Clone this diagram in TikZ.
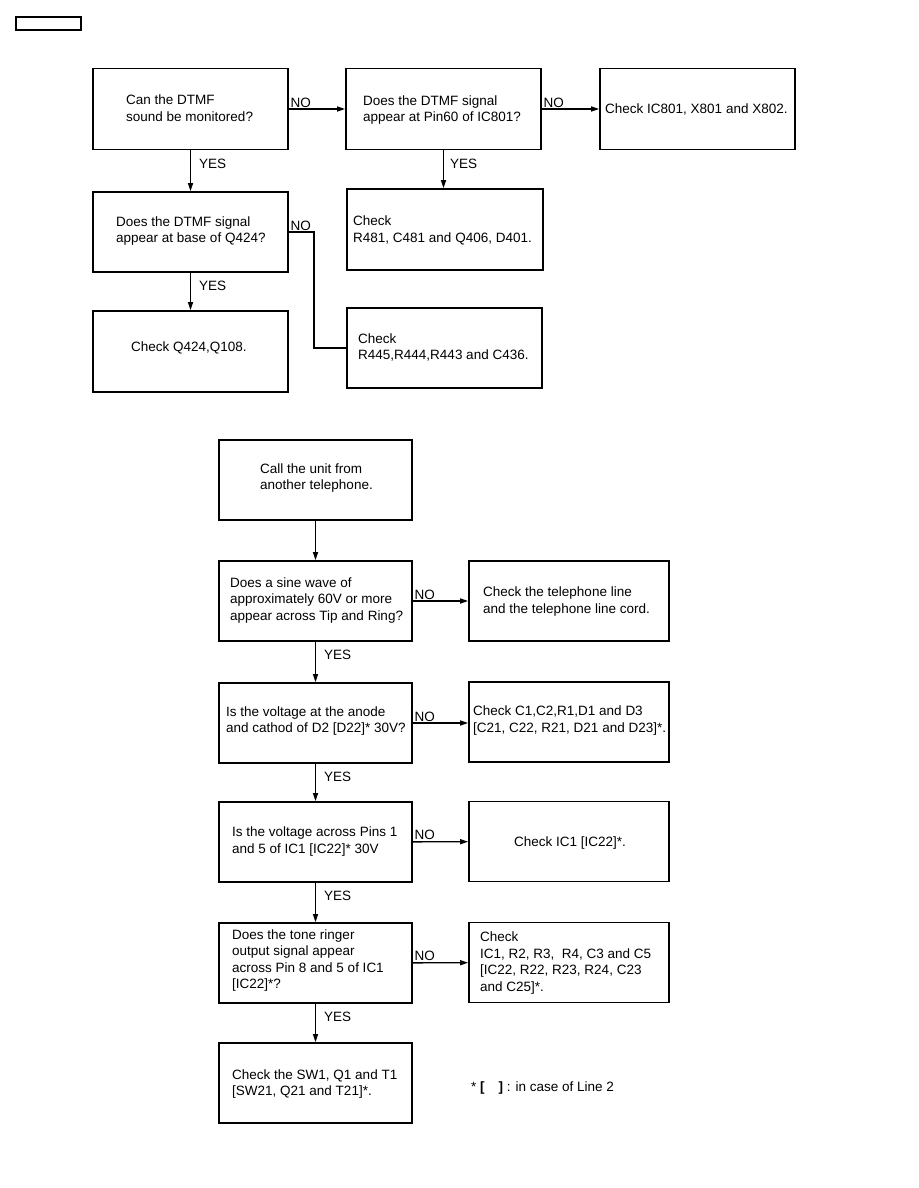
\documentclass[tikz,border=0pt]{standalone}
\usepackage{fontspec}
\setmainfont{Liberation Sans}
\usetikzlibrary{arrows.meta,positioning,calc}

\begin{document}
\begin{tikzpicture}[
    x=1pt,y=1pt,
    >={Triangle[length=8pt,width=5pt]},
    line/.style={draw=black, line width=1.4pt},
    box/.style={
        draw=black,
        line width=1.7pt,
        inner sep=0pt,
        minimum width=195,
        minimum height=81
    },
    qbox/.style={box, minimum width=193, minimum height=80},
    cbox/.style={box, minimum width=200, minimum height=80},
    txt/.style={font=\fontsize{13.5}{16.5}\selectfont, align=left, anchor=west, inner sep=0pt},
    lbl/.style={font=\fontsize{13.5}{16.5}\selectfont, inner sep=1pt},
    nolbl/.style={lbl, pos=0, anchor=south west},
    yeslbl/.style={lbl, pos=0, anchor=north west, xshift=7, yshift=-7}
]

% ===== page frame =====
\useasboundingbox (0,0) rectangle (918,-1188);

% header tab
\node[draw=black, line width=1.5pt, minimum width=65, minimum height=13, inner sep=0pt]
  (hdr) at (48.5,-23.5) {};

% ===== DTMF chart =====
\node[box] (monitor) at (190.5,-109) {};
\node[txt] (monitor-t) at (126,-108) {Can the DTMF\\sound be monitored?};

\node[box] (pin60) at (443.5,-109) {};
\node[txt] (pin60-t) at (363,-110) {Does the DTMF signal\\appear at Pin60 of IC801?};

\node[box] (ic801) at (697.5,-109) {};
\node[txt] (ic801-t) at (605,-109) {Check IC801, X801 and X802.};

\node[box, minimum height=80] (base) at (190.5,-232) {};
\node[txt] (base-t) at (116,-231) {Does the DTMF signal\\appear at base of Q424?};

\node[box, minimum width=196] (r481) at (445,-229.5) {};
\node[txt] (r481-t) at (353,-230.5) {Check\\R481, C481 and Q406, D401.};

\node[box] (q424) at (190.5,-351.5) {};
\node[txt] (q424-t) at (131,-348) {Check Q424,Q108.};

\node[box, minimum height=80] (r445) at (444.5,-348) {};
\node[txt] (r445-t) at (358,-347.5) {Check\\R445,R444,R443 and C436.};

% connectors
\draw[line,->] (monitor) -- node[nolbl] {NO} (pin60);
\draw[line,->] (pin60) -- node[nolbl] {NO} (ic801);
\draw[line,->] (monitor) -- node[yeslbl] {YES} (base);
\draw[line,->] (pin60.south) -- node[yeslbl, xshift=-2] {YES} (pin60.south |- r481.north);
\draw[line,->] (base) -- node[yeslbl] {YES} (q424);
\draw[line] (base.east) -- node[nolbl] {NO} ++(25,0) |- (r445.west);

% ===== ringer chart =====
\node[qbox] (call) at (315.5,-480) {};
\node[txt] (call-t) at (260,-478) {Call the unit from\\another telephone.};

\node[qbox] (sine) at (315.5,-601) {};
\node[txt] (sine-t) at (230,-600.5) {Does a sine wave of\\approximately 60V or more\\appear across Tip and Ring?};

\node[cbox] (line) at (569,-601) {};
\node[txt] (line-t) at (483,-601.5) {Check the telephone line\\and the telephone line cord.};

\node[qbox] (anode) at (315.5,-723) {};
\node[txt] (anode-t) at (226,-721) {Is the voltage at the anode\\and cathod of D2 [D22]* 30V?};

\node[cbox] (c1) at (569,-722) {};
\node[txt] (c1-t) at (473,-720.5) {Check C1,C2,R1,D1 and D3\\{}[C21, C22, R21, D21 and D23]*.};

\node[qbox] (pins) at (315.5,-842) {};
\node[txt] (pins-t) at (232,-841.5) {Is the voltage across Pins 1\\and 5 of IC1 [IC22]* 30V};

\node[cbox] (ic1) at (569,-841.5) {};
\node[txt] (ic1-t) at (514,-843) {Check IC1 [IC22]*.};

\node[qbox] (ringer) at (315.5,-963) {};
\node[txt] (ringer-t) at (232,-960.5) {Does the tone ringer\\output signal appear\\across Pin 8 and 5 of IC1\\{}[IC22]*?};

\node[cbox] (r2) at (569,-962.5) {};
\node[txt] (r2-t) at (480,-963) {Check\\IC1, R2, R3,\ \ R4, C3 and C5\\{}[IC22, R22, R23, R24, C23\\and C25]*.};

\node[qbox] (sw1) at (315.5,-1083) {};
\node[txt] (sw1-t) at (232,-1084) {Check the SW1, Q1 and T1\\{}[SW21, Q21 and T21]*.};

% footnote
\node[txt] (note) at (471,-1088) {* \textbf{[}\hspace{14pt}\textbf{]} : in case of Line 2};

% connectors
\draw[line,->] (call) -- (sine);
\draw[line,->] (sine) -- node[nolbl] {NO} (line);
\draw[line,->] (sine) -- node[yeslbl] {YES} (anode);
\draw[line,->] (anode.east) -- node[nolbl] {NO} (anode.east -| c1.west);
\draw[line,->] (anode) -- node[yeslbl] {YES} (pins);
\draw[line,->] (pins) -- node[nolbl] {NO} (ic1);
\draw[line,->] (pins) -- node[yeslbl] {YES} (ringer);
\draw[line,->] (ringer) -- node[nolbl] {NO} (r2);
\draw[line,->] (ringer) -- node[yeslbl] {YES} (sw1);
\end{tikzpicture}
\end{document}
